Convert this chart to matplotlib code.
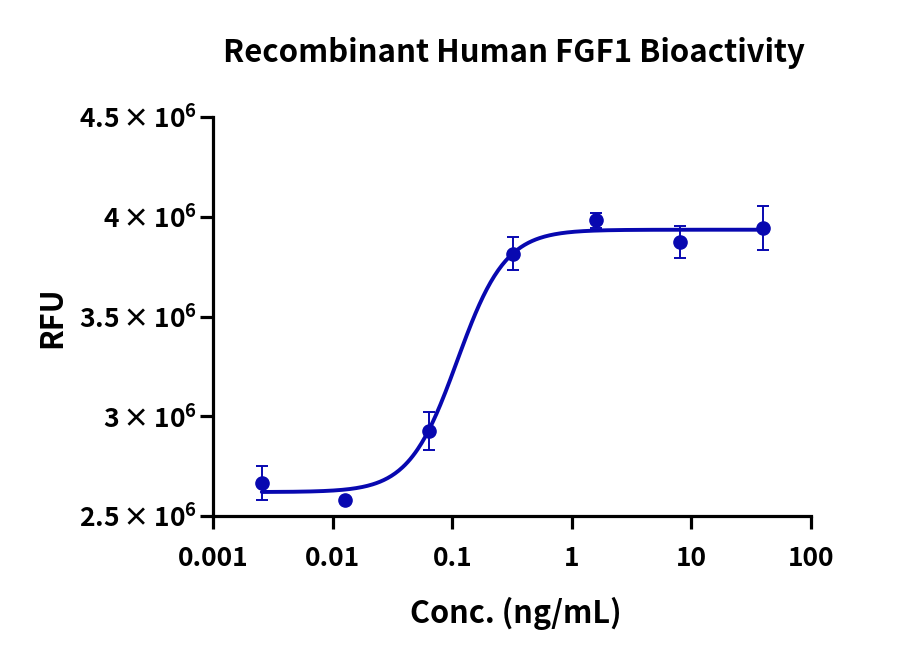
import numpy as np
import matplotlib
matplotlib.use("Agg")
import matplotlib.pyplot as plt
from matplotlib.ticker import FixedLocator

# Data
conc = [0.00256, 0.0128, 0.064, 0.32, 1.6, 8, 40]
rfu = [2.665e6, 2.578e6, 2.926e6, 3.815e6, 3.982e6, 3.873e6, 3.942e6]
rfu_err = [0.085e6, 0.0, 0.095e6, 0.083e6, 0.038e6, 0.080e6, 0.110e6]

# 4PL fit parameters
fit_bottom = 2.62e6
fit_top = 3.935e6
fit_ec50 = 0.11
fit_hill = 2.15

x_ticks = [0.001, 0.01, 0.1, 1, 10, 100]
x_ticklabels = ["0.001", "0.01", "0.1", "1", "10", "100"]
y_ticks = [2.5e6, 3e6, 3.5e6, 4e6, 4.5e6]
y_ticklabels = [r"$\mathbf{2.5\,{\times}\,10^{6}}$", r"$\mathbf{3\,{\times}\,10^{6}}$",
                r"$\mathbf{3.5\,{\times}\,10^{6}}$", r"$\mathbf{4\,{\times}\,10^{6}}$",
                r"$\mathbf{4.5\,{\times}\,10^{6}}$"]

title = "Recombinant Human FGF1 Bioactivity"
xlabel = "Conc. (ng/mL)"
ylabel = "RFU"

FAM = "Noto Sans CJK SC"
plt.rcParams["font.family"] = [FAM, "DejaVu Sans"]
plt.rcParams["font.weight"] = "bold"
plt.rcParams["mathtext.fontset"] = "custom"
plt.rcParams["mathtext.rm"] = FAM + ":bold"
plt.rcParams["mathtext.bf"] = FAM + ":bold"
plt.rcParams["mathtext.it"] = FAM + ":bold"
plt.rcParams["mathtext.sf"] = FAM + ":bold"

color = "#0808b0"

fig = plt.figure(figsize=(9, 6.61), dpi=100)
ax = fig.add_axes([213/900, 1-516/661, (811-213)/900, (516-117)/661])

xs = np.logspace(np.log10(conc[0]), np.log10(conc[-1]), 400)
ys = fit_bottom + (fit_top - fit_bottom) / (1 + (fit_ec50 / xs) ** fit_hill)
ax.plot(xs, ys, color=color, lw=2.8, zorder=2, solid_capstyle="round")

ax.errorbar(conc, rfu, yerr=rfu_err, fmt="o", color=color, ms=9.5,
            elinewidth=1.4, capsize=4.5, capthick=1.4, zorder=3)

ax.set_xscale("log")
ax.set_xlim(0.001, 100)
ax.set_ylim(2.5e6, 4.5e6)
ax.xaxis.set_major_locator(FixedLocator(x_ticks))
ax.xaxis.set_minor_locator(FixedLocator([]))
ax.set_xticks(x_ticks)
ax.set_xticklabels(x_ticklabels)
ax.set_yticks(y_ticks)
ax.set_yticklabels(y_ticklabels)

for s in ["top", "right"]:
    ax.spines[s].set_visible(False)
for s in ["left", "bottom"]:
    ax.spines[s].set_linewidth(2.3)
ax.tick_params(axis="both", which="major", direction="out", length=9.5, width=2.3,
               labelsize=19)
ax.tick_params(axis="x", pad=11.5)
ax.tick_params(axis="y", pad=2)
for lab in ax.get_xticklabels() + ax.get_yticklabels():
    lab.set_fontweight("bold")

fig.text(514/900, 1-62/661, title, ha="center", va="baseline", fontsize=22.4, fontweight="bold")
fig.text(516/900, 1-623/661, xlabel, ha="center", va="baseline", fontsize=22, fontweight="bold")
fig.text(52/900, 1-317/661, ylabel, ha="center", va="center", rotation=90, fontsize=22, fontweight="bold")

fig.savefig("out.png", dpi=100)
